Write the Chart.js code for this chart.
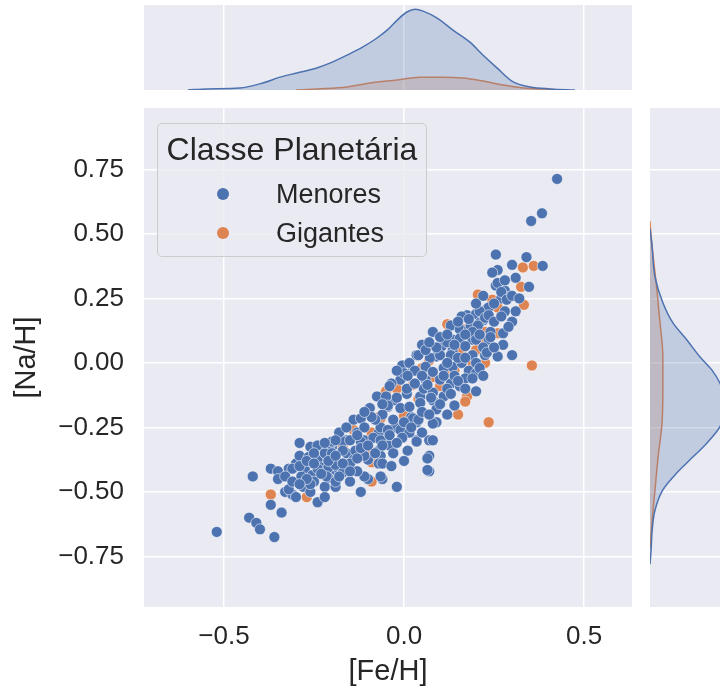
<!DOCTYPE html>
<html>
<head>
<meta charset="utf-8">
<script src="https://cdn.jsdelivr.net/npm/chart.js@4.4.0/dist/chart.umd.min.js"></script>
<style>
html, body { margin: 0; padding: 0; background: #fff; overflow: hidden; width: 720px; height: 691px; }
canvas { position: absolute; }
#legend {
    position: absolute; left: 157px; top: 123px; width: 268px; height: 132px;
    background: rgba(234, 234, 242, 0.8); border: 1px solid #cccccc; border-radius: 5px;
    font-family: "Liberation Sans", Arial, sans-serif; color: #262626;
}
#legend .ltitle { position: absolute; left: 0; width: 100%; top: 6px; text-align: center; font-size: 32px; line-height: 38px; white-space: nowrap; }
#legend .item { position: absolute; left: 118px; font-size: 27px; line-height: 32px; }
#legend .dot { position: absolute; width: 12px; height: 12px; border-radius: 50%; left: 59px; }
</style>
</head>
<body>
<canvas id="topChart" width="720" height="100" style="left:0;top:0"></canvas>
<canvas id="sideChart" width="200" height="691" style="left:600px;top:0"></canvas>
<canvas id="mainChart" width="720" height="691" style="left:0;top:0"></canvas>
<div id="legend">
    <div class="ltitle">Classe Planetária</div>
    <span class="dot" style="background:#4c72b0;top:64px"></span>
    <div class="item" style="top:54px">Menores</div>
    <span class="dot" style="background:#dd8452;top:103px"></span>
    <div class="item" style="top:93px">Gigantes</div>
</div>
<script>
// data
const menoresFe = [0.425, 0.383, 0.353, 0.255, 0.34, 0.385, 0.347, 0.30, -0.52, -0.43,
    -0.41, -0.40, -0.36, -0.42, -0.37, -0.34, -0.37, -0.35, -0.35, -0.33,
    -0.31, -0.24, -0.29, -0.26, -0.24, -0.32, -0.30, -0.28, -0.27, -0.28,
    -0.23, -0.21, -0.20, -0.19, -0.21, -0.22, -0.19, -0.12, -0.10, -0.06,
    -0.02, -0.18, -0.16, -0.14, -0.13, -0.11, -0.16, -0.14, -0.10, -0.07,
    -0.03, -0.05, -0.07, -0.075, -0.095, -0.045, -0.03, -0.025, -0.005, 0.02,
    0.035, 0.035, 0.07, 0.07, 0.07, 0.08, 0.035, -0.005, 0.025, -0.01,
    0.008, 0.045, 0.06, 0.08, 0.09, 0.09, 0.26, 0.245, 0.255, 0.28,
    0.29, 0.27, 0.175, 0.20, 0.23, 0.22, 0.13, 0.155, 0.18, 0.275,
    0.21, 0.135, 0.19, 0.26, 0.27, 0.285, 0.235, 0.21, 0.225, 0.185,
    0.205, 0.235, 0.19, 0.155, 0.20, 0.235, 0.275, 0.17, 0.135, 0.105,
    0.04, 0.072, 0.10, 0.13, 0.19, 0.225, 0.26, 0.015, 0.03, 0.06,
    0.08, 0.11, 0.135, 0.16, 0.18, 0.20, 0.10, 0.13, 0.155, 0.008,
    0.055, 0.08, 0.11, 0.045, 0.14, -0.205, -0.17, -0.29, -0.265, -0.24,
    -0.22, -0.20, -0.31, -0.275, -0.255, -0.285, -0.23, -0.21, -0.18, -0.215,
    -0.19, -0.25, -0.28, -0.32, -0.30, -0.26, -0.035, 0.065, 0.075, -0.02,
    -0.05, -0.045, -0.01, 0.015, 0.025, -0.03, 0.04, 0.08, -0.12, -0.11,
    -0.065, -0.045, -0.01, 0.015, -0.085, -0.065, -0.04, -0.005, 0.035, 0.08,
    -0.12, -0.15, -0.18, -0.20, -0.17, -0.135, -0.11, -0.065, -0.03, 0.01,
    -0.15, -0.07, -0.06, -0.19, -0.17, 0.065, 0.065, -0.11, -0.065, 0.12,
    0.17, 0.20, 0.22, 0.24, 0.15, 0.12, 0.05, 0.09, 0.12, 0.14,
    0.25, 0.28, 0.30, 0.31, 0.05, -0.06, -0.08, 0.0, 0.16, 0.10,
    0.30, -0.13, -0.24, -0.26, -0.15, -0.035, 0.0, 0.20, 0.06,
    -0.33, -0.31, -0.29, -0.27, -0.25, -0.23, -0.21, -0.19, -0.17, -0.15,
    -0.13, -0.12, -0.10, -0.08, -0.06, -0.04, -0.02, 0.0, 0.02, 0.05,
    0.05, 0.07, 0.10, 0.11, 0.13, 0.15, 0.17, 0.19, 0.21, 0.23,
    0.25, 0.24, 0.21, 0.17, 0.15, 0.18, 0.20, 0.22, 0.25, 0.27,
    0.29, 0.31, 0.32, 0.28, 0.30, 0.12, 0.09, 0.07, 0.03, 0.01,
    -0.02, -0.04, -0.06, -0.09, -0.11, -0.13, -0.16, -0.19, -0.22, -0.25,
    -0.27, -0.29, -0.22, -0.18, 0.12, 0.14, 0.17, 0.22];
const menoresNa = [0.713, 0.58, 0.55, 0.42, 0.41, 0.376, 0.295, 0.03, -0.655, -0.60,
    -0.62, -0.645, -0.675, -0.44, -0.55, -0.58, -0.41, -0.42, -0.45, -0.50,
    -0.51, -0.54, -0.31, -0.325, -0.32, -0.41, -0.39, -0.43, -0.43, -0.465,
    -0.39, -0.35, -0.325, -0.415, -0.445, -0.48, -0.48, -0.50, -0.45, -0.45,
    -0.48, -0.27, -0.30, -0.22, -0.27, -0.30, -0.35, -0.375, -0.375, -0.34,
    -0.35, -0.30, -0.27, -0.13, -0.175, -0.17, -0.145, -0.25, -0.26, -0.21,
    -0.23, -0.30, -0.30, -0.36, -0.42, 0.12, 0.03, -0.01, -0.03, -0.065,
    -0.12, -0.13, -0.065, -0.145, -0.23, 0.025, 0.36, 0.35, 0.30, 0.28,
    0.255, 0.25, 0.185, 0.19, 0.21, 0.165, 0.145, 0.13, 0.13, 0.115,
    0.155, 0.09, 0.09, 0.31, 0.275, 0.245, 0.215, 0.20, 0.175, 0.145,
    0.145, 0.185, 0.12, 0.095, 0.09, 0.09, 0.07, 0.065, 0.05, 0.065,
    0.03, 0.02, 0.03, 0.03, 0.03, 0.03, 0.025, 0.0, -0.03, -0.015,
    -0.035, -0.02, -0.015, 0.0, -0.03, -0.04, -0.065, -0.08, -0.09, -0.10,
    -0.10, -0.115, -0.13, -0.155, -0.165, -0.315, -0.305, -0.36, -0.365, -0.375,
    -0.35, -0.35, -0.41, -0.415, -0.435, -0.44, -0.405, -0.405, -0.415, -0.44,
    -0.46, -0.46, -0.48, -0.49, -0.52, -0.50, -0.08, -0.085, -0.135, -0.135,
    -0.13, -0.165, -0.175, -0.17, -0.215, -0.22, -0.22, -0.235, -0.215, -0.25,
    -0.25, -0.26, -0.26, -0.27, -0.29, -0.30, -0.32, -0.29, -0.305, -0.30,
    -0.305, -0.30, -0.27, -0.305, -0.34, -0.34, -0.36, -0.36, -0.35, -0.34,
    -0.39, -0.39, -0.39, -0.395, -0.425, -0.37, -0.415, -0.44, -0.44, -0.10,
    -0.06, 0.0, 0.06, 0.12, 0.02, 0.08, -0.05, -0.18, -0.20, -0.05,
    0.16, 0.20, 0.26, 0.33, 0.07, -0.20, -0.22, -0.04, 0.18, 0.10,
    0.16, -0.42, -0.41, -0.47, -0.46, -0.40, -0.38, -0.11, 0.05,
    -0.44, -0.46, -0.40, -0.38, -0.35, -0.43, -0.38, -0.36, -0.39, -0.42,
    -0.37, -0.33, -0.32, -0.35, -0.32, -0.28, -0.31, -0.23, -0.25, -0.27,
    -0.19, -0.20, -0.16, -0.05, -0.12, -0.07, -0.10, -0.06, -0.02, 0.04,
    0.06, 0.10, 0.11, 0.11, 0.16, 0.17, 0.23, 0.26, 0.23, 0.18,
    0.14, 0.20, 0.25, 0.32, 0.38, 0.11, 0.06, 0.08, -0.08, -0.05,
    -0.03, -0.09, -0.16, -0.21, -0.19, -0.28, -0.25, -0.30, -0.31, -0.39,
    -0.45, -0.47, -0.52, -0.44, 0.0, 0.07, 0.02, -0.05];

const gigantesFe = [0.33, 0.36, 0.325, 0.333, 0.355, -0.37, -0.27, -0.09, -0.095, -0.09,
    -0.09, -0.07, 0.0, 0.025, 0.07, 0.205, 0.245, 0.26, 0.225, 0.26,
    0.165, 0.16, 0.225, 0.08, 0.175, 0.235, -0.065, 0.15, 0.17, 0.12,
    -0.02, 0.20, 0.04, -0.14, 0.10, -0.04, 0.19, 0.12, 0.14, 0.05,
    -0.05, 0.22, -0.17];
const gigantesNa = [0.37, 0.376, 0.295, 0.225, -0.01, -0.51, -0.52, -0.46, -0.34, -0.385,
    -0.27, -0.21, -0.205, -0.085, 0.01, 0.265, 0.245, 0.215, 0.12, 0.115,
    0.13, 0.05, 0.0, -0.055, -0.13, -0.23, -0.215, -0.20, -0.15, -0.04,
    -0.10, 0.05, -0.14, -0.26, -0.09, -0.30, 0.0, 0.15, -0.03, -0.02,
    -0.11, 0.08, -0.32];

// marginal densities (top: along [Fe/H], side: along [Na/H])
const topMenoresFe = [-0.60, -0.547, -0.456, -0.392, -0.344, -0.297, -0.242, -0.206, -0.158, -0.114,
    -0.075, -0.047, -0.019, 0.008, 0.031, 0.053, 0.092, 0.136, 0.183, 0.219,
    0.258, 0.303, 0.35, 0.406, 0.475];
const topMenoresDens = [0.0, 0.04, 0.07, 0.25, 0.46, 0.61, 0.79, 0.96, 1.25, 1.54,
    1.86, 2.14, 2.50, 2.79, 2.89, 2.82, 2.57, 2.14, 1.71, 1.25,
    0.79, 0.29, 0.11, 0.04, 0.0];
const topGigantesFe = [-0.30, -0.242, -0.158, -0.094, -0.019, 0.044, 0.108, 0.164, 0.219, 0.275, 0.331, 0.378, 0.43];
const topGigantesDens = [0.0, 0.04, 0.11, 0.25, 0.36, 0.46, 0.46, 0.43, 0.32, 0.18, 0.07, 0.04, 0.0];

const sideMenoresNa = [0.52, 0.457, 0.333, 0.233, 0.155, 0.089, 0.023, -0.027, -0.078, -0.12,
    -0.163, -0.205, -0.248, -0.31, -0.364, -0.426, -0.492, -0.57, -0.659, -0.725, -0.78];
const sideMenoresDens = [0.0, 0.07, 0.18, 0.46, 0.82, 1.32, 1.79, 2.21, 2.50, 2.64,
    2.71, 2.64, 2.50, 2.04, 1.54, 0.96, 0.46, 0.18, 0.07, 0.04, 0.0];
const sideGigantesNa = [0.55, 0.49, 0.28, 0.155, 0.023, -0.105, -0.233, -0.364, -0.49, -0.62, -0.72];
const sideGigantesDens = [0.0, 0.04, 0.25, 0.36, 0.46, 0.46, 0.43, 0.29, 0.18, 0.07, 0.0];

const xTicks = [-0.5, 0, 0.5];
const xTickLabels = ['\u22120.5', '0.0', '0.5'];
const yTicks = [-0.75, -0.5, -0.25, 0, 0.25, 0.5, 0.75];
const yTickLabels = ['\u22120.75', '\u22120.50', '\u22120.25', '0.00', '0.25', '0.50', '0.75'];

const FONT = '"Liberation Sans", Arial, sans-serif';
const TEXT = '#262626';
const BLUE = '#4c72b0';
const ORANGE = '#dd8452';
const X_MIN = -0.722, X_MAX = 0.633;
const Y_MIN = -0.946, Y_MAX = 0.988;

const plotBg = {
    id: 'plotBg',
    beforeDraw(chart) {
        const { ctx, chartArea: a } = chart;
        ctx.save();
        ctx.fillStyle = '#eaeaf2';
        ctx.fillRect(a.left, a.top, a.right - a.left, a.bottom - a.top);
        ctx.restore();
    }
};

function pts(xs, ys) {
    return xs.map((x, i) => ({ x: x, y: ys[i] }));
}

// main scatter
new Chart(document.getElementById('mainChart'), {
    type: 'scatter',
    data: {
        datasets: [{
            label: 'Menores',
            data: pts(menoresFe, menoresNa),
            backgroundColor: BLUE,
            borderColor: 'rgba(255,255,255,0.7)',
            borderWidth: 0.8,
            pointRadius: 5.5
        }, {
            label: 'Gigantes',
            data: pts(gigantesFe, gigantesNa),
            backgroundColor: ORANGE,
            borderColor: 'rgba(255,255,255,0.7)',
            borderWidth: 0.8,
            pointRadius: 5.5
        }]
    },
    options: {
        responsive: false,
        animation: false,
        layout: { padding: { top: 108, right: 88, left: 0, bottom: 0 } },
        plugins: { legend: { display: false }, tooltip: { enabled: false } },
        scales: {
            x: {
                type: 'linear', min: X_MIN, max: X_MAX,
                afterBuildTicks: s => { s.ticks = xTicks.map(v => ({ value: v })); },
                afterFit: s => { s.height = 84; },
                ticks: { callback: (v, i) => xTickLabels[i], font: { family: FONT, size: 26 }, color: TEXT, padding: 14, maxRotation: 0 },
                grid: { color: '#ffffff', lineWidth: 1.5, drawTicks: false },
                border: { display: false },
                title: { display: true, text: '[Fe/H]', font: { family: FONT, size: 29 }, color: TEXT, padding: { top: 0, bottom: 2 } }
            },
            y: {
                type: 'linear', min: Y_MIN, max: Y_MAX,
                afterBuildTicks: s => { s.ticks = yTicks.map(v => ({ value: v })); },
                afterFit: s => { s.width = 144; },
                ticks: { callback: (v, i) => yTickLabels[i], font: { family: FONT, size: 26 }, color: TEXT, padding: 20 },
                grid: { color: '#ffffff', lineWidth: 1.5, drawTicks: false },
                border: { display: false },
                title: { display: true, text: '[Na/H]', font: { family: FONT, size: 29 }, color: TEXT, padding: { top: 10, bottom: 0 } }
            }
        }
    },
    plugins: [plotBg]
});

// top marginal kde
new Chart(document.getElementById('topChart'), {
    type: 'scatter',
    data: {
        datasets: [{
            data: pts(topMenoresFe, topMenoresDens),
            showLine: true, fill: 'origin', pointRadius: 0,
            borderColor: BLUE, borderWidth: 1.5, backgroundColor: 'rgba(76,114,176,0.25)',
            cubicInterpolationMode: 'monotone'
        }, {
            data: pts(topGigantesFe, topGigantesDens),
            showLine: true, fill: 'origin', pointRadius: 0,
            borderColor: ORANGE, borderWidth: 1.5, backgroundColor: 'rgba(221,132,82,0.25)',
            cubicInterpolationMode: 'monotone'
        }]
    },
    options: {
        responsive: false,
        animation: false,
        layout: { padding: { top: 5, right: 88, left: 144, bottom: 10 } },
        plugins: { legend: { display: false }, tooltip: { enabled: false } },
        scales: {
            x: {
                type: 'linear', min: X_MIN, max: X_MAX,
                afterBuildTicks: s => { s.ticks = xTicks.map(v => ({ value: v })); },
                afterFit: s => { s.height = 0; },
                ticks: { display: false },
                grid: { color: '#ffffff', lineWidth: 1.5, drawTicks: false },
                border: { display: false }
            },
            y: { display: false, min: 0, max: 3.04 }
        }
    },
    plugins: [plotBg]
});

// side marginal kde
new Chart(document.getElementById('sideChart'), {
    type: 'line',
    data: {
        datasets: [{
            data: pts(sideMenoresDens, sideMenoresNa),
            fill: 'origin', pointRadius: 0,
            borderColor: BLUE, borderWidth: 1.5, backgroundColor: 'rgba(76,114,176,0.25)',
            cubicInterpolationMode: 'monotone'
        }, {
            data: pts(sideGigantesDens, sideGigantesNa),
            fill: 'origin', pointRadius: 0,
            borderColor: ORANGE, borderWidth: 1.5, backgroundColor: 'rgba(221,132,82,0.25)',
            cubicInterpolationMode: 'monotone'
        }]
    },
    options: {
        indexAxis: 'y',
        responsive: false,
        animation: false,
        layout: { padding: { top: 108, right: 65, left: 50, bottom: 84 } },
        plugins: { legend: { display: false }, tooltip: { enabled: false } },
        scales: {
            y: {
                type: 'linear', min: Y_MIN, max: Y_MAX,
                afterBuildTicks: s => { s.ticks = yTicks.map(v => ({ value: v })); },
                afterFit: s => { s.width = 0; },
                ticks: { display: false },
                grid: { color: '#ffffff', lineWidth: 1.5, drawTicks: false },
                border: { display: false }
            },
            x: { type: 'linear', display: false, min: 0, max: 3.04 }
        }
    },
    plugins: [plotBg]
});
</script>
</body>
</html>
